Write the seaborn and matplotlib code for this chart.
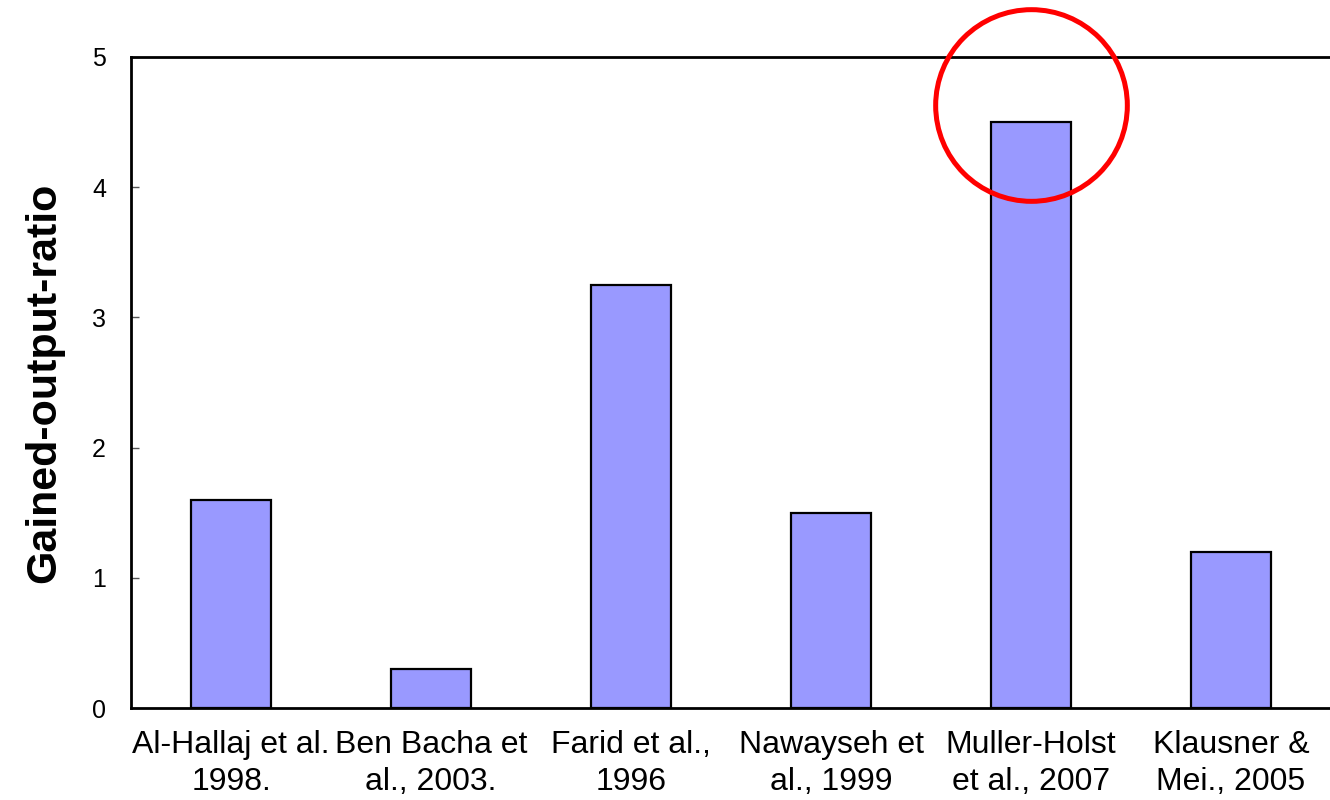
import matplotlib
matplotlib.use("Agg")
import matplotlib.pyplot as plt
from matplotlib.ticker import FixedLocator
import seaborn as sns
import pandas as pd

studies = ["Al-Hallaj et al.\n1998.", "Ben Bacha et\nal., 2003.", "Farid et al.,\n1996",
           "Nawayseh et\nal., 1999", "Muller-Holst\net al., 2007", "Klausner &\nMei., 2005"]
gor = [1.6, 0.3, 3.25, 1.5, 4.5, 1.2]
highlight_idx = 4
highlight_y = 4.63

sns.set_style("white")
plt.rcParams['font.family'] = ['Liberation Sans', 'DejaVu Sans']
plt.rcParams['text.color'] = 'black'
plt.rcParams['xtick.labelcolor'] = 'black'
plt.rcParams['ytick.labelcolor'] = 'black'
plt.rcParams['axes.labelcolor'] = 'black'

df = pd.DataFrame({"study": studies, "gor": gor})

fig = plt.figure(figsize=(13.3, 8), dpi=100)
ax = fig.add_axes([0.0985, 0.115, 0.9023, 0.814])

sns.barplot(data=df, x="study", y="gor", color="#9999FF", edgecolor="black",
            linewidth=1.6, width=0.4, saturation=1, ax=ax)

ax.set_xlim(-0.5, len(studies) - 0.5)
ax.set_ylim(0, 5)
ax.set_yticks([0, 1, 2, 3, 4, 5])
ax.set_xlabel("")
ax.set_ylabel("Gained-output-ratio", fontsize=31, fontweight="bold", labelpad=20)

ax.tick_params(axis="x", which="major", length=0, labelsize=23, pad=16)
for lbl in ax.get_xticklabels():
    lbl.set_linespacing(1.3)
ax.xaxis.set_minor_locator(FixedLocator([i + 0.5 for i in range(len(studies) - 1)]))
ax.tick_params(axis="x", which="minor", direction="in", length=6, width=1, color="#555555")
ax.tick_params(axis="y", direction="in", length=6, width=1, color="#555555",
               labelsize=18, pad=18)
ax.tick_params(axis="y", which="both", left=True)

for s in ["left", "bottom", "top"]:
    ax.spines[s].set_visible(True)
    ax.spines[s].set_color("black")
    ax.spines[s].set_linewidth(2)
ax.spines["right"].set_visible(False)

# red circle around the highlighted bar
ax.plot([highlight_idx], [highlight_y], marker="o", markersize=138, markerfacecolor="none",
        markeredgecolor="#FF0000", markeredgewidth=3.6, clip_on=False, zorder=5)

fig.savefig("out.png", dpi=100)
